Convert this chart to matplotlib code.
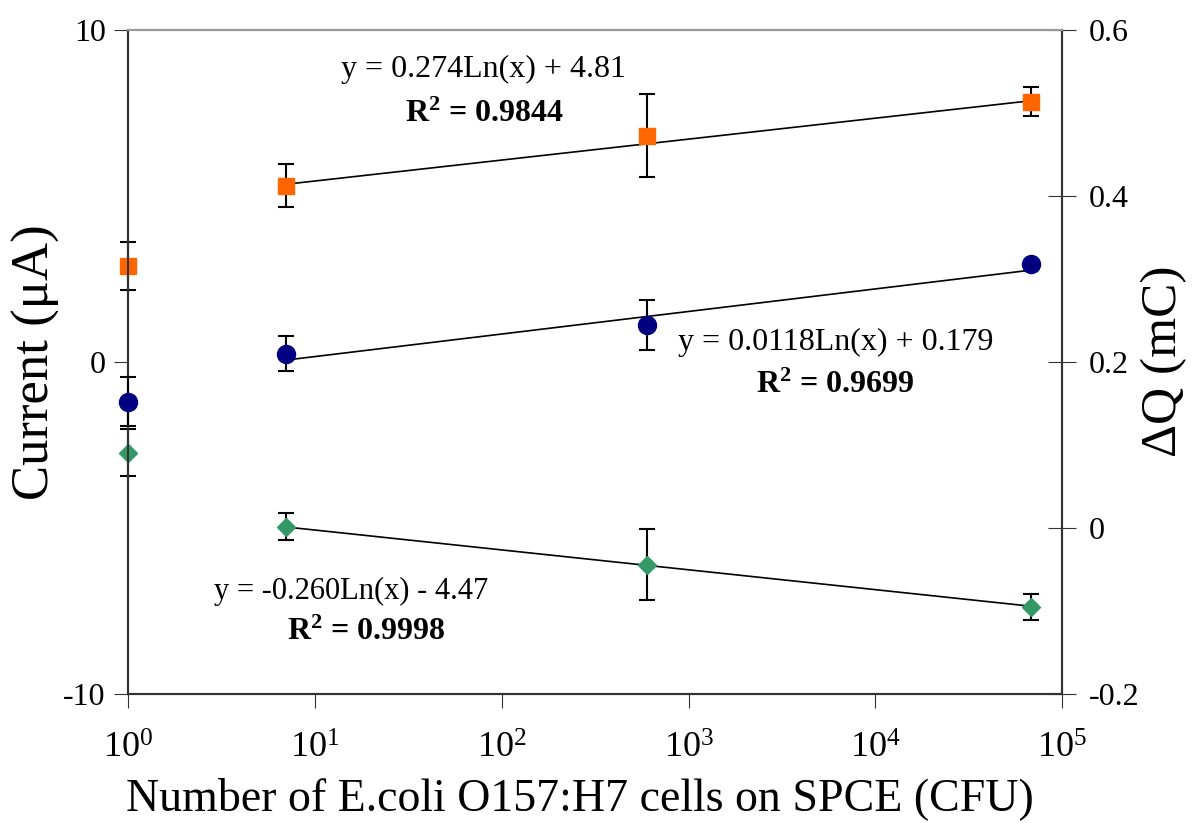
import numpy as np
import matplotlib.pyplot as plt

plt.rcParams['font.family'] = ['Liberation Serif', 'DejaVu Serif']
plt.rcParams['mathtext.fontset'] = 'custom'
plt.rcParams['mathtext.rm'] = 'Liberation Serif'
plt.rcParams['mathtext.bf'] = 'Liberation Serif:bold'
plt.rcParams['axes.unicode_minus'] = False

# cell counts (CFU)
cells = [1, 7, 600, 68000]

# current, orange squares (left axis, uA)
cur_up = [2.89, 5.30, 6.81, 7.83]
cur_up_err = [0.72, 0.65, 1.26, 0.44]

# current, green diamonds (left axis, uA)
cur_dn = [-2.74, -4.97, -6.11, -7.38]
cur_dn_err = [0.70, 0.40, 1.08, 0.40]

# charge, navy circles (right axis, mC)
charge = [0.152, 0.2096, 0.2446, 0.318]
charge_err = [0.030, 0.021, 0.030, 0.0]

# log fits (slope, intercept), drawn over 7..6.8e4
fit_up = (0.274, 4.81)
fit_dn = (-0.260, -4.47)
fit_q = (0.0118, 0.179)

fig = plt.figure(figsize=(11.95, 8.23), dpi=100)
ax = fig.add_axes([0.107, 0.157, 0.782, 0.807])
ax2 = ax.twinx()

xf = np.array(cells[1:], dtype=float)
ax.plot(xf, fit_up[0] * np.log(xf) + fit_up[1], color='black', lw=1.2, zorder=2)
ax.plot(xf, fit_dn[0] * np.log(xf) + fit_dn[1], color='black', lw=1.2, zorder=2)
ax2.plot(xf, fit_q[0] * np.log(xf) + fit_q[1], color='black', lw=1.2, zorder=2)

ax.errorbar(cells, cur_up, yerr=cur_up_err, fmt='s', color='#FF6600', ms=11,
            ecolor='black', elinewidth=1.5, capsize=6, capthick=1.5, zorder=3, clip_on=False)
ax.errorbar(cells, cur_dn, yerr=cur_dn_err, fmt='D', color='#339966', ms=9,
            ecolor='black', elinewidth=1.5, capsize=6, capthick=1.5, zorder=3, clip_on=False)
ax2.errorbar(cells, charge, yerr=charge_err, fmt='o', color='#000080', ms=13,
             ecolor='black', elinewidth=1.5, capsize=6, capthick=1.5, zorder=3, clip_on=False)

ax.set_xscale('log')
ax.set_xlim(1, 1e5)
ax.set_ylim(-10, 10)
ax.set_yticks([-10, 0, 10])
ax2.set_ylim(-0.2, 0.6)
ax2.set_yticks([-0.2, 0, 0.2, 0.4, 0.6])
ax2.set_yticklabels(['-0.2', '0', '0.2', '0.4', '0.6'])
ax.minorticks_off()
ax.set_xticks([1, 10, 100, 1000, 10000, 100000])

ax.tick_params(axis='x', direction='out', length=10, labelsize=26, pad=18, color='#333333')
ax.tick_params(axis='y', direction='out', length=10, labelsize=23, pad=6, color='#333333')
ax2.tick_params(axis='y', direction='inout', length=20, labelsize=23, pad=9, color='#333333')

for a in (ax, ax2):
    for s in a.spines.values():
        s.set_color('#333333')
        s.set_linewidth(1.5)
ax2.spines['top'].set_color('#999999')
ax.spines['top'].set_color('#999999')

ax.set_xlabel('Number of E.coli O157:H7 cells on SPCE (CFU)', fontsize=33, labelpad=8)
ax.xaxis.label.set_x(0.484)
ax.set_ylabel('Current (\u03bcA)', fontsize=38, labelpad=2)
ax2.set_ylabel('\u0394Q (mC)', fontsize=37, labelpad=1)

ax.text(0.38, 0.94, 'y = 0.274Ln(x) + 4.81', transform=ax.transAxes,
        ha='center', va='center', fontsize=23)
ax.text(0.382, 0.873, r'$\mathbf{R^2}$ = 0.9844', transform=ax.transAxes,
        ha='center', va='center', fontsize=23, fontweight='bold')
ax.text(0.757, 0.529, 'y = 0.0118Ln(x) + 0.179', transform=ax.transAxes,
        ha='center', va='center', fontsize=23)
ax.text(0.757, 0.465, r'$\mathbf{R^2}$ = 0.9699', transform=ax.transAxes,
        ha='center', va='center', fontsize=23, fontweight='bold')
ax.text(0.239, 0.154, 'y = -0.260Ln(x) - 4.47', transform=ax.transAxes,
        ha='center', va='center', fontsize=22)
ax.text(0.255, 0.092, r'$\mathbf{R^2}$ = 0.9998', transform=ax.transAxes,
        ha='center', va='center', fontsize=23, fontweight='bold')

fig.savefig('out.png', dpi=100)
